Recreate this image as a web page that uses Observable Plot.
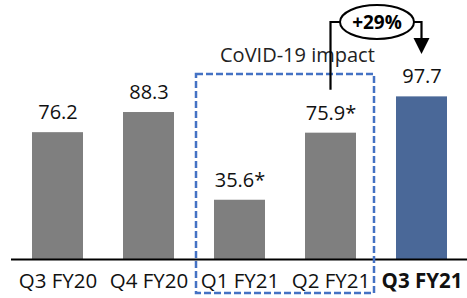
<!DOCTYPE html>
<html>
<head>
<meta charset="utf-8">
<script src="https://cdn.jsdelivr.net/npm/d3@7"></script>
<script src="https://cdn.jsdelivr.net/npm/@observablehq/plot@0.6"></script>
<style>
  html, body { margin: 0; padding: 0; background: #fff; }
  svg { overflow: visible; }
</style>
</head>
<body>
<div id="chart"></div>
<script>
const quarters = ["Q3 FY20", "Q4 FY20", "Q1 FY21", "Q2 FY21", "Q3 FY21"];
const revenue = [76.2, 88.3, 35.6, 75.9, 97.7];
const valueLabels = ["76.2", "88.3", "35.6*", "75.9*", "97.7"];
const highlight = [false, false, false, false, true];
const covidQuarters = ["Q1 FY21", "Q2 FY21"];
const covidLabel = "CoVID-19 impact";
const growthLabel = "+29%";
const growthFrom = "Q2 FY21";
const growthTo = "Q3 FY21";

const data = quarters.map((q, i) => ({q, v: revenue[i], label: valueLabels[i], hi: highlight[i]}));
const FONT = "'Open Sans', sans-serif";

function covidBox(index, scales, values, dimensions) {
  const x = scales.x;
  const bw = x.bandwidth();
  const pad = 18;
  const x0 = x(covidQuarters[0]) - pad;
  const x1 = x(covidQuarters[covidQuarters.length - 1]) + bw + pad;
  const yTop = 74;
  const yBot = dimensions.height - 5;
  const g = d3.create("svg:g");
  g.append("rect")
    .attr("x", x0).attr("y", yTop)
    .attr("width", x1 - x0).attr("height", yBot - yTop)
    .attr("fill", "none").attr("stroke", "#4472c4")
    .attr("stroke-width", 2.5).attr("stroke-dasharray", "7,3");
  g.append("text")
    .attr("x", x0 + 24).attr("y", 62)
    .attr("text-anchor", "start")
    .attr("font-family", FONT).attr("font-size", 20).attr("fill", "#222")
    .text(covidLabel);
  return g.node();
}

function growthArrow(index, scales, values, dimensions) {
  const x = scales.x, y = scales.y;
  const bw = x.bandwidth();
  const xa = x(growthFrom) + bw / 2;
  const xb = x(growthTo) + bw / 2;
  const vFrom = revenue[quarters.indexOf(growthFrom)];
  const yStart = y(vFrom) - 43;
  const yLine = 22;
  const cx = (xa + xb) / 2 + 1;
  const rx = 37, ry = 17;
  const arrowTip = 54;
  const g = d3.create("svg:g");
  g.append("path")
    .attr("d", `M${xa},${yStart}V${yLine}H${cx - rx}`)
    .attr("fill", "none").attr("stroke", "#000").attr("stroke-width", 2.2);
  g.append("path")
    .attr("d", `M${cx + rx},${yLine}H${xb}V${arrowTip - 14}`)
    .attr("fill", "none").attr("stroke", "#000").attr("stroke-width", 2.2);
  g.append("path")
    .attr("d", `M${xb - 8},${arrowTip - 16}L${xb + 8},${arrowTip - 16}L${xb},${arrowTip}Z`)
    .attr("fill", "#000");
  g.append("ellipse")
    .attr("cx", cx).attr("cy", yLine).attr("rx", rx).attr("ry", ry)
    .attr("fill", "#fff").attr("stroke", "#000").attr("stroke-width", 2);
  g.append("text")
    .attr("x", cx).attr("y", yLine).attr("dy", "0.35em")
    .attr("text-anchor", "middle")
    .attr("font-family", FONT).attr("font-size", 19).attr("font-weight", "bold")
    .attr("fill", "#000")
    .text(growthLabel);
  return g.node();
}

const chart = Plot.plot({
  width: 467,
  height: 298,
  marginLeft: 11,
  marginRight: 0,
  marginTop: 1,
  marginBottom: 39,
  style: {fontFamily: FONT, background: "#fff", overflow: "visible"},
  x: {domain: quarters, paddingInner: 0.44, paddingOuter: 0.22, label: null},
  y: {domain: [0, 155], axis: null},
  marks: [
    Plot.barY(data, {x: "q", y: "v", fill: d => d.hi ? "#4a6898" : "#7f7f7f"}),
    Plot.text(data, {x: "q", y: "v", text: "label", dy: -20, fontSize: 20, fill: "#111", fontFamily: FONT}),
    Plot.ruleY([0], {stroke: "#000", strokeWidth: 2}),
    Plot.axisX({
      tickSize: 0, tickPadding: 14, fontSize: 20.5, fill: "#111",
      tickFormat: d => d
    }),
    covidBox,
    growthArrow
  ]
});

// bold last tick label
d3.select(chart).selectAll("g[aria-label='x-axis tick label'] text")
  .filter(function () { return this.textContent === growthTo; })
  .attr("font-weight", "bold");

document.getElementById("chart").appendChild(chart);
</script>
</body>
</html>
